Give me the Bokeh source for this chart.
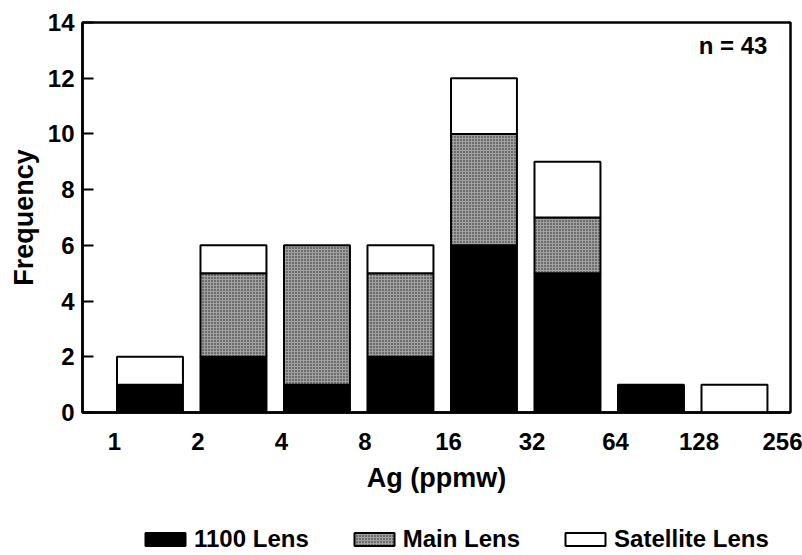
from bokeh.plotting import figure
from bokeh.layouts import column
from bokeh.models import FixedTicker, Legend, LegendItem, Label, Range1d, ColumnDataSource
from bokeh.embed import file_html
from bokeh.resources import INLINE

# ---- data ----
bin_edge_labels = ["1", "2", "4", "8", "16", "32", "64", "128", "256"]
lens_1100 = [1, 2, 1, 2, 6, 5, 1, 0]
main_lens = [0, 3, 5, 3, 4, 2, 0, 0]
satellite_lens = [1, 1, 0, 1, 2, 2, 0, 1]
series_names = ["1100 Lens", "Main Lens", "Satellite Lens"]
y_ticks = [0, 2, 4, 6, 8, 10, 12, 14]

FONT = "Liberation Sans"
nbins = len(lens_1100)

styles = [
    dict(fill_color="black", line_color="black", line_width=2),
    dict(fill_color="#a0a0a0", line_color="black", line_width=2,
         hatch_pattern=".", hatch_color="#202020", hatch_scale=3, hatch_weight=1.3),
    dict(fill_color="white", line_color="black", line_width=2),
]

p = figure(width=802, height=515, output_backend="svg", toolbar_location=None,
           x_range=Range1d(-0.383, 8.096), y_range=Range1d(0, 14),
           min_border_left=82, min_border_right=12, min_border_top=22,
           min_border_bottom=103)
p.background_fill_color = "white"
p.border_fill_color = "white"
p.outline_line_color = "black"
p.outline_line_width = 2.5
p.grid.visible = False

def stack_source(values, base):
    l, r, b, t = [], [], [], []
    for i, (v, b0) in enumerate(zip(values, base)):
        if v > 0:
            l.append(i + 0.03)
            r.append(i + 0.82)
            b.append(b0)
            t.append(b0 + v)
    return ColumnDataSource(dict(left=l, right=r, bottom=b, top=t))

base0 = [0] * nbins
base1 = [a for a in lens_1100]
base2 = [a + b for a, b in zip(lens_1100, main_lens)]

sources = [stack_source(vals, base) for vals, base in
           zip([lens_1100, main_lens, satellite_lens], [base0, base1, base2])]
for src, st in zip(sources, styles):
    p.quad(left="left", right="right", bottom="bottom", top="top", source=src, **st)

# x axis
xa = p.xaxis[0]
xa.ticker = FixedTicker(ticks=list(range(len(bin_edge_labels))))
xa.major_label_overrides = {i: s for i, s in enumerate(bin_edge_labels)}
xa.major_tick_line_color = None
xa.minor_tick_line_color = None
xa.axis_line_width = 2.5
xa.major_label_standoff = 14
xa.major_label_text_font = FONT
xa.major_label_text_font_style = "bold"
xa.major_label_text_font_size = "24px"
xa.major_label_text_color = "black"
xa.axis_label = "Ag (ppmw)"
xa.axis_label_text_font = FONT
xa.axis_label_text_font_style = "bold"
xa.axis_label_text_font_size = "27px"
xa.axis_label_text_color = "black"
xa.axis_label_standoff = 10

ya = p.yaxis[0]
ya.ticker = FixedTicker(ticks=y_ticks)
ya.major_tick_in = 11
ya.major_tick_out = 0
ya.major_tick_line_width = 2
ya.minor_tick_line_color = None
ya.axis_line_width = 2.5
ya.major_label_standoff = 8
ya.major_label_text_font = FONT
ya.major_label_text_font_style = "bold"
ya.major_label_text_font_size = "24px"
ya.major_label_text_color = "black"
ya.axis_label = "Frequency"
ya.axis_label_text_font = FONT
ya.axis_label_text_font_style = "bold"
ya.axis_label_text_font_size = "27px"
ya.axis_label_text_color = "black"
ya.axis_label_standoff = 6

total = sum(lens_1100) + sum(main_lens) + sum(satellite_lens)
p.add_layout(Label(x=7.82, y=13.17, text=f"n = {total}", text_align="right",
                   text_baseline="middle", text_font=FONT, text_font_style="bold",
                   text_font_size="24px", text_color="black"))

# ---- legend strip (frame aligned with the chart's frame by the column layout) ----
q = figure(width=802, height=40, output_backend="svg", toolbar_location=None,
           x_axis_location=None, y_axis_location=None,
           x_range=Range1d(100, 101), y_range=Range1d(100, 101),
           min_border_left=82, min_border_right=12,
           min_border_top=0, min_border_bottom=0)
q.outline_line_color = None
q.grid.visible = False
q.background_fill_color = "white"
q.border_fill_color = "white"
legend_renderers = [q.quad(left="left", right="right", bottom="bottom", top="top",
                           source=src, **st) for src, st in zip(sources, styles)]

legend = Legend(items=[LegendItem(label=name, renderers=[r], index=0)
                       for name, r in zip(series_names, legend_renderers)],
                orientation="horizontal", location=(58, 2),
                border_line_color=None, background_fill_alpha=0,
                glyph_width=50, glyph_height=16, label_standoff=4, spacing=40,
                padding=0, margin=0,
                label_text_font=FONT, label_text_font_style="bold",
                label_text_font_size="24px", label_text_color="black")
q.add_layout(legend, "center")

open("out.html", "w").write(file_html(column(p, q, spacing=0), INLINE))
